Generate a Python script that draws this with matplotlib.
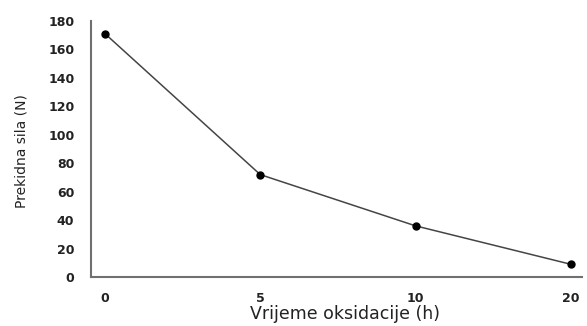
import matplotlib
matplotlib.use('Agg')
import matplotlib.pyplot as plt

# data
categories = ['0', '5', '10', '20']
sila = [171, 72, 36, 9]
y_ticks = [0, 20, 40, 60, 80, 100, 120, 140, 160, 180]

fig = plt.figure(figsize=(5.87, 3.26), dpi=100)
ax = fig.add_axes([0.155, 0.150, 0.836, 0.786])

x = list(range(len(categories)))
ax.plot(x, sila, color='#454545', linewidth=1.1, marker='o',
        markersize=5, markerfacecolor='black', markeredgecolor='black')

ax.set_xlim(-0.09, 3.07)
ax.set_ylim(0, 180)
ax.set_xticks(x)
ax.set_xticklabels(categories)
ax.set_yticks(y_ticks)

for s in ['top', 'right']:
    ax.spines[s].set_visible(False)
for s in ['left', 'bottom']:
    ax.spines[s].set_color('#707070')
    ax.spines[s].set_linewidth(1.5)

ax.tick_params(length=0, labelsize=9, colors='#222222')
ax.tick_params(axis='y', pad=12)
ax.tick_params(axis='x', pad=11)
for lbl in ax.get_xticklabels() + ax.get_yticklabels():
    lbl.set_fontweight('bold')

ax.set_xlabel('Vrijeme oksidacije (h)', fontsize=12.5, color='#222222')
ax.xaxis.set_label_coords(0.517, -0.107)
ax.set_ylabel('Prekidna sila (N)', fontsize=10, color='#222222')
ax.yaxis.set_label_coords(-0.128, 0.49)

fig.savefig('out.png', dpi=100)
